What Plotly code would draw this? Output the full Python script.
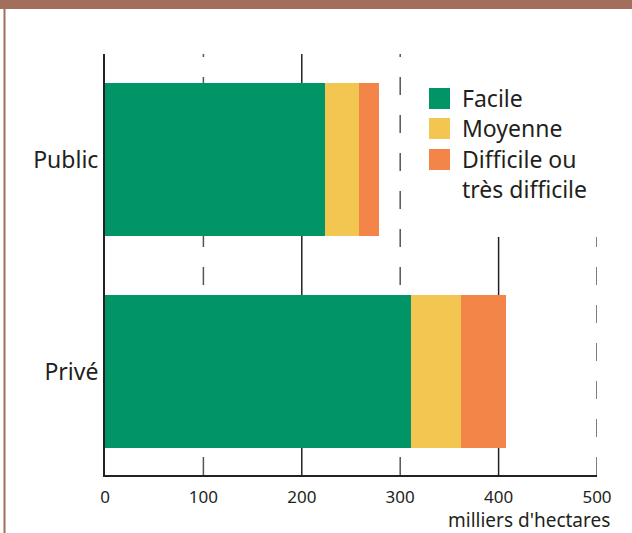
import plotly.graph_objects as go

categories = ["Privé", "Public"]
series_names = ["Facile", "Moyenne", "Difficile ou<br>très difficile"]
facile = [311, 224]
moyenne = [51, 34]
difficile = [46, 20]
colors = ["#009466", "#F3C652", "#F48549"]
x_ticks = [0, 100, 200, 300, 400, 500]
solid_grid = [200, 400]
dashed_grid = [100, 300, 500]

W, H = 632, 533
L, R, T, B = 105, 35, 54, 58
pw, ph = W - L - R, H - T - B

def px(x):
    return (x - L) / pw

def py(y):
    return (H - B - y) / ph

FONT = "Noto Sans"
fig = go.Figure()
for name, vals, col in zip(series_names, [facile, moyenne, difficile], colors):
    fig.add_trace(go.Bar(y=categories, x=vals, name=name, orientation="h",
                         marker=dict(color=col, line=dict(width=0)), width=0.72))

shapes = []
for g in solid_grid:
    shapes.append(dict(type="line", xref="x", yref="paper", x0=g, x1=g, y0=0, y1=1,
                       line=dict(color="#222222", width=1.5), layer="below"))
for g in dashed_grid:
    shapes.append(dict(type="line", xref="x", yref="paper", x0=g, x1=g, y0=0, y1=1,
                       line=dict(color="#555555", width=1.5, dash="18px,20px"), layer="below"))
# white box behind legend
shapes.append(dict(type="rect", xref="paper", yref="paper", x0=px(412), x1=px(632),
                   y0=py(237), y1=py(40), fillcolor="white", line=dict(width=0), layer="below"))
# brown frame
shapes.append(dict(type="rect", xref="paper", yref="paper", x0=px(0), x1=px(632),
                   y0=py(9), y1=py(0), fillcolor="#A36E5C", line=dict(width=0)))
shapes.append(dict(type="rect", xref="paper", yref="paper", x0=px(3.5), x1=px(5.5),
                   y0=py(533), y1=py(9), fillcolor="#A36E5C", line=dict(width=0)))

annotations = []
sq_tops = [88, 118, 149]
for name, col, top in zip(series_names, colors, sq_tops):
    shapes.append(dict(type="rect", xref="paper", yref="paper", x0=px(429), x1=px(450),
                       y0=py(top + 21), y1=py(top), fillcolor=col, line=dict(width=0)))
    annotations.append(dict(text=name, xref="paper", yref="paper", x=px(460), y=py(top - 8),
                            xanchor="left", yanchor="top", align="left", showarrow=False,
                            font=dict(family=FONT, size=23, color="#231F20")))
annotations.append(dict(text="milliers d'hectares", xref="paper", yref="paper",
                        x=px(612), y=py(505), xanchor="right", yanchor="top", showarrow=False,
                        font=dict(family=FONT, size=19, color="#231F20")))

fig.update_layout(
    width=W, height=H, barmode="stack", showlegend=False,
    margin=dict(l=L, r=R, t=T, b=B, pad=0),
    paper_bgcolor="white", plot_bgcolor="white",
    shapes=shapes, annotations=annotations,
    font=dict(family=FONT, color="#231F20"),
    xaxis=dict(range=[0, 500], tickvals=x_ticks, ticktext=[str(v) for v in x_ticks],
               showgrid=False, zeroline=False, showline=True, linecolor="#222222", linewidth=2,
               ticks="", tickfont=dict(size=17, family=FONT, color="#231F20"), ticklabelstandoff=6),
    yaxis=dict(type="category", categoryorder="array", categoryarray=categories,
               range=[-0.488, 1.498], showgrid=False, zeroline=False, showline=True,
               linecolor="#222222", linewidth=2, ticks="",
               tickfont=dict(size=23, family=FONT, color="#231F20"), ticklabelstandoff=0),
)
fig.write_html("out.html", config={"displayModeBar": False},
               post_script="document.body.style.margin='0px';document.body.style.overflow='hidden';")
